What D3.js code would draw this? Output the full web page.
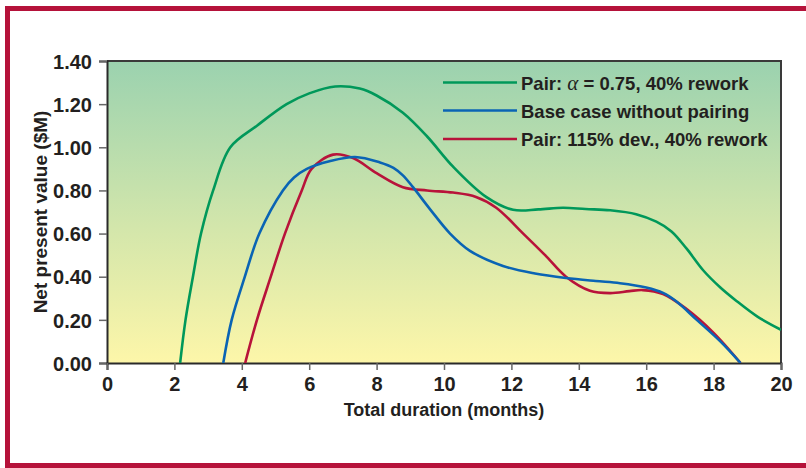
<!DOCTYPE html>
<html>
<head>
<meta charset="utf-8">
<script src="https://cdn.jsdelivr.net/npm/d3@7"></script>
<style>
  html, body { margin: 0; padding: 0; background: #ffffff; }
  svg { display: block; }
  text { font-family: "Liberation Sans", Arial, Helvetica, sans-serif; font-weight: bold; fill: #231f20; }
</style>
</head>
<body>
<svg id="chart" width="806" height="468"></svg>
<script>
// ---- data ----
const xTicks = [0, 2, 4, 6, 8, 10, 12, 14, 16, 18, 20];
const yTicks = [0, 0.2, 0.4, 0.6, 0.8, 1.0, 1.2, 1.4];

const seriesNames = [
  "Pair: \u03B1 = 0.75, 40% rework",
  "Base case without pairing",
  "Pair: 115% dev., 40% rework"
];
const seriesColors = ["#00985a", "#0a64b4", "#b8133a"];

const greenMonths = [2.17, 2.33, 2.55, 2.79, 3.15, 3.66, 4.45, 5.33, 6.0, 6.77, 7.5, 8.0, 8.78, 9.5, 10.27, 11.25, 12.05, 12.8, 13.53, 14.2, 14.93, 15.7, 16.3, 16.75, 17.2, 17.69, 18.2, 18.66, 19.3, 20];
const greenValues = [0, 0.2, 0.4, 0.6, 0.8, 1.0, 1.1, 1.2, 1.25, 1.282, 1.272, 1.24, 1.16, 1.05, 0.91, 0.77, 0.71, 0.712, 0.72, 0.714, 0.708, 0.69, 0.655, 0.61, 0.53, 0.43, 0.35, 0.29, 0.215, 0.154];

const blueMonths = [3.45, 3.7, 4.09, 4.52, 5.22, 5.55, 5.93, 6.6, 7.36, 8.1, 8.5, 8.78, 9.08, 9.6, 10.18, 10.77, 11.75, 12.7, 13.62, 14.5, 15.22, 16.0, 16.5, 16.9, 17.5, 18.2, 18.8];
const blueValues = [0, 0.2, 0.4, 0.6, 0.8, 0.86, 0.9, 0.935, 0.955, 0.93, 0.905, 0.87, 0.815, 0.71, 0.6, 0.52, 0.45, 0.415, 0.394, 0.38, 0.37, 0.35, 0.325, 0.285, 0.2, 0.1, 0];

const redMonths = [4.1, 4.45, 4.86, 5.28, 5.78, 6.07, 6.71, 7.3, 8.0, 8.78, 9.5, 10.27, 10.95, 11.55, 12.35, 13.0, 13.62, 14.33, 14.93, 15.5, 15.9, 16.5, 17.2, 18.0, 18.8];
const redValues = [0, 0.2, 0.4, 0.6, 0.8, 0.9, 0.966, 0.95, 0.88, 0.815, 0.8, 0.79, 0.77, 0.72, 0.6, 0.5, 0.4, 0.335, 0.324, 0.333, 0.338, 0.32, 0.25, 0.14, 0];

const xTitle = "Total duration (months)";
const yTitle = "Net present value ($M)";

// ---- layout ----
const svg = d3.select("#chart");
const plot = { left: 107, right: 781, top: 61, bottom: 363 };

const x = d3.scaleLinear().domain([0, 20]).range([plot.left, plot.right]);
const y = d3.scaleLinear().domain([0, 1.4]).range([plot.bottom, plot.top]);

// frame
const frameColor = "#b5123a";
svg.append("path")
  .attr("d", `M 806 8.5 H 7.5 V 465.5 H 806`)
  .attr("fill", "none")
  .attr("stroke", frameColor)
  .attr("stroke-width", 5);

// gradient background
const defs = svg.append("defs");
const grad = defs.append("linearGradient").attr("id", "bg").attr("x1", 0).attr("y1", 0).attr("x2", 0).attr("y2", 1);
grad.append("stop").attr("offset", "0%").attr("stop-color", "#9bd2af");
grad.append("stop").attr("offset", "55%").attr("stop-color", "#d3e6ab");
grad.append("stop").attr("offset", "100%").attr("stop-color", "#fdf6a9");

svg.append("rect")
  .attr("x", plot.left).attr("y", plot.top)
  .attr("width", plot.right - plot.left).attr("height", plot.bottom - plot.top)
  .attr("fill", "url(#bg)");

// top and right border
svg.append("path")
  .attr("d", `M ${plot.left} ${plot.top} H ${plot.right} V ${plot.bottom}`)
  .attr("fill", "none").attr("stroke", "#3a3a3a").attr("stroke-width", 2);

// axes
const fmtY = d3.format(".2f");
const yAxis = d3.axisLeft(y).tickValues(yTicks).tickFormat(fmtY).tickSize(8).tickPadding(7);
const xAxis = d3.axisBottom(x).tickValues(xTicks).tickFormat(d3.format("d")).tickSize(7).tickPadding(6);

const gy = svg.append("g").attr("transform", `translate(${plot.left},0)`).call(yAxis);
const gx = svg.append("g").attr("transform", `translate(0,${plot.bottom})`).call(xAxis);

[gy, gx].forEach(g => {
  g.select(".domain").attr("stroke", "#2a2a2a").attr("stroke-width", 2);
  g.selectAll(".tick line").attr("stroke", "#666").attr("stroke-width", 1.5);
  g.selectAll(".tick text")
    .style("font-family", '"Liberation Sans", Arial, sans-serif')
    .style("font-weight", "bold")
    .style("font-size", "20px")
    .attr("fill", "#231f20");
});
gy.selectAll(".tick text").attr("dy", "0.36em");
gx.selectAll(".tick text").attr("dy", "0.75em");

// axis titles
svg.append("text")
  .attr("x", 444)
  .attr("y", 416)
  .attr("text-anchor", "middle")
  .style("font-size", "18px")
  .text(xTitle);

svg.append("text")
  .attr("transform", `translate(47,${(plot.top + plot.bottom) / 2}) rotate(-90)`)
  .attr("text-anchor", "middle")
  .style("font-size", "19px")
  .text(yTitle);

// lines
const series = [
  { months: greenMonths, values: greenValues },
  { months: blueMonths, values: blueValues },
  { months: redMonths, values: redValues }
];
const line = d3.line().x(d => x(d[0])).y(d => y(d[1])).curve(d3.curveCatmullRom.alpha(0.5));

const clip = defs.append("clipPath").attr("id", "clip");
clip.append("rect").attr("x", plot.left).attr("y", plot.top).attr("width", plot.right - plot.left).attr("height", plot.bottom - plot.top);

const order = [0, 2, 1];
order.forEach(i => {
  const s = series[i];
  svg.append("path")
    .datum(d3.zip(s.months, s.values))
    .attr("clip-path", "url(#clip)")
    .attr("fill", "none")
    .attr("stroke", seriesColors[i])
    .attr("stroke-width", 2.6)
    .attr("stroke-linejoin", "round")
    .attr("d", line);
});

// legend
const legend = svg.append("g");
const legendY = [82.5, 110.5, 139];
seriesNames.forEach((name, i) => {
  legend.append("line")
    .attr("x1", 443).attr("x2", 517)
    .attr("y1", legendY[i]).attr("y2", legendY[i])
    .attr("stroke", seriesColors[i]).attr("stroke-width", 2.6);
  const t = legend.append("text")
    .attr("x", 521).attr("y", legendY[i] + 7)
    .style("font-size", "18.5px");
  if (name.indexOf("\u03B1") >= 0) {
    const parts = name.split("\u03B1");
    t.append("tspan").text(parts[0]);
    t.append("tspan")
      .style("font-family", '"Liberation Serif", "DejaVu Serif", serif')
      .style("font-style", "italic")
      .style("font-weight", "normal")
      .style("font-size", "21px")
      .text("\u03B1");
    t.append("tspan").text(parts[1]);
  } else {
    t.text(name);
  }
});
</script>
</body>
</html>
